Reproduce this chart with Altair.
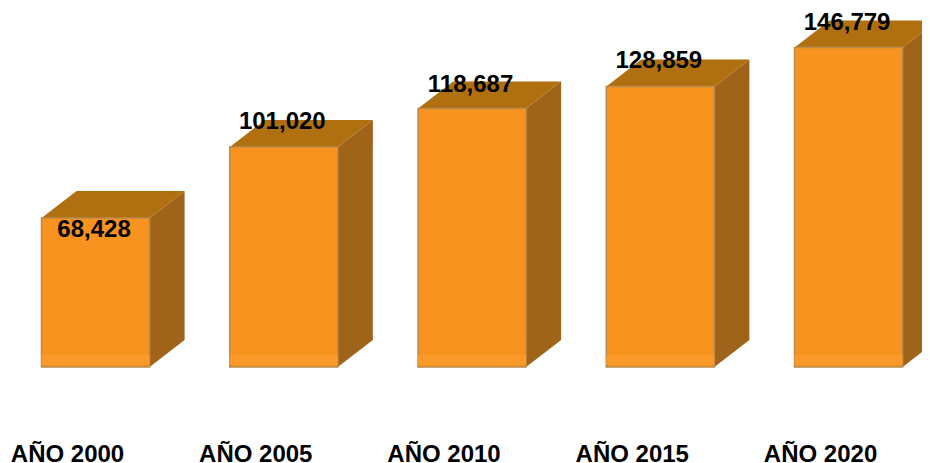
import altair as alt
import pandas as pd

categories = ["AÑO 2000", "AÑO 2005", "AÑO 2010", "AÑO 2015", "AÑO 2020"]
values = [68428, 101020, 118687, 128859, 146779]
label_y = [63000, 112500, 129500, 140500, 158000]
category_label_y = -40400
category_shift = -0.149
label_shift = -0.008

half = 0.287
depth_x = 0.186
depth_y = 12400

front, side, top, labels, cats = [], [], [], [], []
for i, (c, v, ly) in enumerate(zip(categories, values, label_y)):
    x0, x1 = i - half, i + half
    front.append({"x0": x0, "x1": x1, "v": v, "band": 5500})
    side.append({"bar": c, "x": x1, "low": 0, "high": v})
    side.append({"bar": c, "x": x1 + depth_x, "low": depth_y, "high": v + depth_y})
    top.append({"bar": c, "x": x0, "low": v, "high": v})
    top.append({"bar": c, "x": x0 + depth_x, "low": v, "high": v + depth_y})
    top.append({"bar": c, "x": x1, "low": v, "high": v + depth_y})
    top.append({"bar": c, "x": x1 + depth_x, "low": v + depth_y, "high": v + depth_y})
    labels.append({"x": i + label_shift, "y": ly, "t": f"{v:,}"})
    cats.append({"x": i + category_shift, "y": category_label_y, "t": c})

xs = alt.Scale(domain=[-0.465, 4.390], nice=False, zero=False)
ys = alt.Scale(domain=[-44100, 164900], nice=False, zero=False)
x_plain = alt.X("x:Q", scale=xs, axis=None)
y_low = alt.Y("low:Q", scale=ys, axis=None)

side_layer = alt.Chart(pd.DataFrame(side)).mark_area(
    color="#A0631A", clip=True, interpolate="linear"
).encode(x=x_plain, y=y_low, y2="high:Q", detail="bar:N")

top_layer = alt.Chart(pd.DataFrame(top)).mark_area(
    color="#B0700F", clip=True, interpolate="linear"
).encode(x=x_plain, y=y_low, y2="high:Q", detail="bar:N")

front_df = pd.DataFrame(front)
front_layer = alt.Chart(front_df).mark_bar(
    color="#F7931E", stroke="#B98A4E", strokeWidth=1.5
).encode(
    x=alt.X("x0:Q", scale=xs, axis=None), x2="x1:Q",
    y=alt.Y("v:Q", scale=ys, axis=None), y2=alt.Y2(datum=0),
)

band_layer = alt.Chart(front_df).mark_bar(color="#FB9A2A").encode(
    x=alt.X("x0:Q", scale=xs, axis=None), x2="x1:Q",
    y=alt.Y("band:Q", scale=ys, axis=None), y2=alt.Y2(datum=1000),
)

def text_layer(rows):
    return alt.Chart(pd.DataFrame(rows)).mark_text(
        font="Liberation Sans", fontWeight="bold", fontSize=24, color="#000000",
        align="center", baseline="middle",
    ).encode(
        x=x_plain,
        y=alt.Y("y:Q", scale=ys, axis=None),
        text="t:N",
    )

chart = alt.layer(
    side_layer, top_layer, front_layer, band_layer, text_layer(labels), text_layer(cats)
).properties(
    width=914, height=455, padding=0, background="#FFFFFF",
    autosize=alt.AutoSizeParams(type="none"),
).configure_view(stroke=None)

chart.save("out.html", embed_options={"renderer": "svg", "actions": False})
